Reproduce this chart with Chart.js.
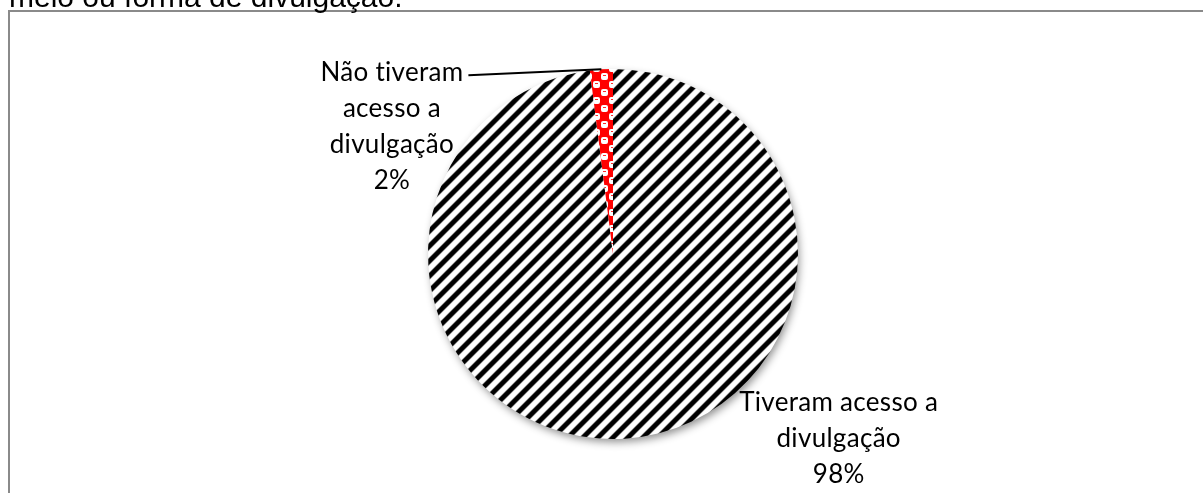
<!DOCTYPE html>
<html>
<head>
<meta charset="utf-8">
<script src="https://cdn.jsdelivr.net/npm/chart.js@4.4.1/dist/chart.umd.min.js"></script>
<style>
  html, body { margin: 0; padding: 0; background: #fff; overflow: hidden; }
  #wrap { position: relative; width: 1203px; height: 493px; }
  #moldura { position: absolute; left: 8px; top: 10px; width: 1210px; height: 500px; border: 2px solid #8a8a8a; box-sizing: border-box; }
  canvas { position: absolute; left: 0; top: 0; }
</style>
</head>
<body>
<div id="wrap">
  <div id="moldura"></div>
  <canvas id="graficoPizza" width="1203" height="493"></canvas>
</div>
<script>
// dados do grafico
var categorias = ["Tiveram acesso a divulgação", "Não tiveram acesso a divulgação"]
var valores = [98, 2]
// texto dos rotulos, quebrado como no original
var rotuloLinhas = [
  ["Tiveram acesso a", "divulgação"],
  ["Não tiveram", "acesso a", "divulgação"],
]
var tituloCortado = "meio ou forma de divulgação."

// posicao dos rotulos em relacao ao centro (em raios)
var rotuloPos = [
  { dx: 1.22, dy: 1.0 },
  { dx: -1.195, dy: -0.69 },
]

function padraoListras() {
  var p = 15
  var c = document.createElement("canvas")
  c.width = p
  c.height = p
  var g = c.getContext("2d")
  var img = g.createImageData(p, p)
  for (var y = 0; y < p; y++) {
    for (var x = 0; x < p; x++) {
      var t = (((x + y) % p) + 0.5) / p
      var v = Math.cos(2 * Math.PI * t)
      var k = Math.max(0, Math.min(1, 0.6 - 1.1 * v))
      var i = (y * p + x) * 4
      img.data[i] = img.data[i + 1] = img.data[i + 2] = Math.round(255 * k)
      img.data[i + 3] = 255
    }
  }
  g.putImageData(img, 0, 0)
  return g.createPattern(c, "repeat")
}

function padraoXadrez() {
  var s = 16
  var c = document.createElement("canvas")
  c.width = s
  c.height = s
  var g = c.getContext("2d")
  g.fillStyle = "#ff0000"
  g.fillRect(0, 0, s, s)
  g.fillStyle = "#ffffff"
  g.beginPath()
  g.roundRect(1, 1, 7, 7, 2)
  g.roundRect(9, 9, 7, 7, 2)
  g.fill()
  g.fillStyle = "#ff2a2a"
  g.fillRect(3, 3, 3, 1)
  g.fillRect(11, 11, 3, 1)
  return g.createPattern(c, "repeat")
}

var sombra = {
  id: "sombra",
  beforeDatasetsDraw: function (chart) {
    var arc = chart.getDatasetMeta(0).data[0]
    var ctx = chart.ctx
    ctx.save()
    ctx.shadowColor = "rgba(0,0,0,0.45)"
    ctx.shadowBlur = 8
    ctx.shadowOffsetX = 2
    ctx.shadowOffsetY = 4
    ctx.beginPath()
    ctx.arc(arc.x, arc.y, arc.outerRadius - 1, 0, Math.PI * 2)
    ctx.fillStyle = "#ffffff"
    ctx.fill()
    ctx.restore()
  },
}

var rotulos = {
  id: "rotulos",
  afterDatasetsDraw: function (chart) {
    var ctx = chart.ctx
    var meta = chart.getDatasetMeta(0)
    var total = valores.reduce(function (a, b) { return a + b }, 0)
    ctx.save()
    ctx.font = "26px Lato"
    ctx.letterSpacing = "0.3px"
    ctx.fillStyle = "#000"
    ctx.textAlign = "center"
    ctx.textBaseline = "middle"
    var passo = 36
    for (var i = 0; i < meta.data.length; i++) {
      var arc = meta.data[i]
      var r = arc.outerRadius
      var linhas = rotuloLinhas[i].concat([Math.round((valores[i] / total) * 100) + "%"])
      var cx = arc.x + rotuloPos[i].dx * r
      var cy = arc.y + rotuloPos[i].dy * r
      var y0 = cy - ((linhas.length - 1) * passo) / 2
      for (var j = 0; j < linhas.length; j++) {
        ctx.fillText(linhas[j], cx, y0 + j * passo)
      }
      // linha de chamada para a fatia pequena
      if (valores[i] / total < 0.05) {
        var w = ctx.measureText(linhas[0]).width
        var meio = (arc.startAngle + arc.endAngle) / 2
        ctx.beginPath()
        ctx.moveTo(cx + w / 2 + 5, y0 + 3)
        ctx.lineTo(arc.x + Math.cos(meio) * r, arc.y + Math.sin(meio) * r)
        ctx.lineWidth = 2
        ctx.strokeStyle = "#000"
        ctx.stroke()
      }
    }
    // resto do titulo, cortado no topo
    ctx.letterSpacing = "0px"
    ctx.font = "30px 'Liberation Sans'"
    ctx.textAlign = "left"
    ctx.textBaseline = "alphabetic"
    ctx.fillText(tituloCortado, 9, 7)
    ctx.restore()
  },
}

var ctx = document.getElementById("graficoPizza").getContext("2d")
new Chart(ctx, {
  type: "pie",
  data: {
    labels: categorias,
    datasets: [
      {
        data: valores,
        backgroundColor: [padraoListras(), padraoXadrez()],
        borderWidth: 0,
      },
    ],
  },
  options: {
    responsive: false,
    animation: false,
    layout: {
      padding: { top: 69, bottom: 54, left: 428, right: 405 },
    },
    plugins: {
      legend: { display: false },
      tooltip: { enabled: false },
    },
  },
  plugins: [sombra, rotulos],
})
</script>
</body>
</html>
